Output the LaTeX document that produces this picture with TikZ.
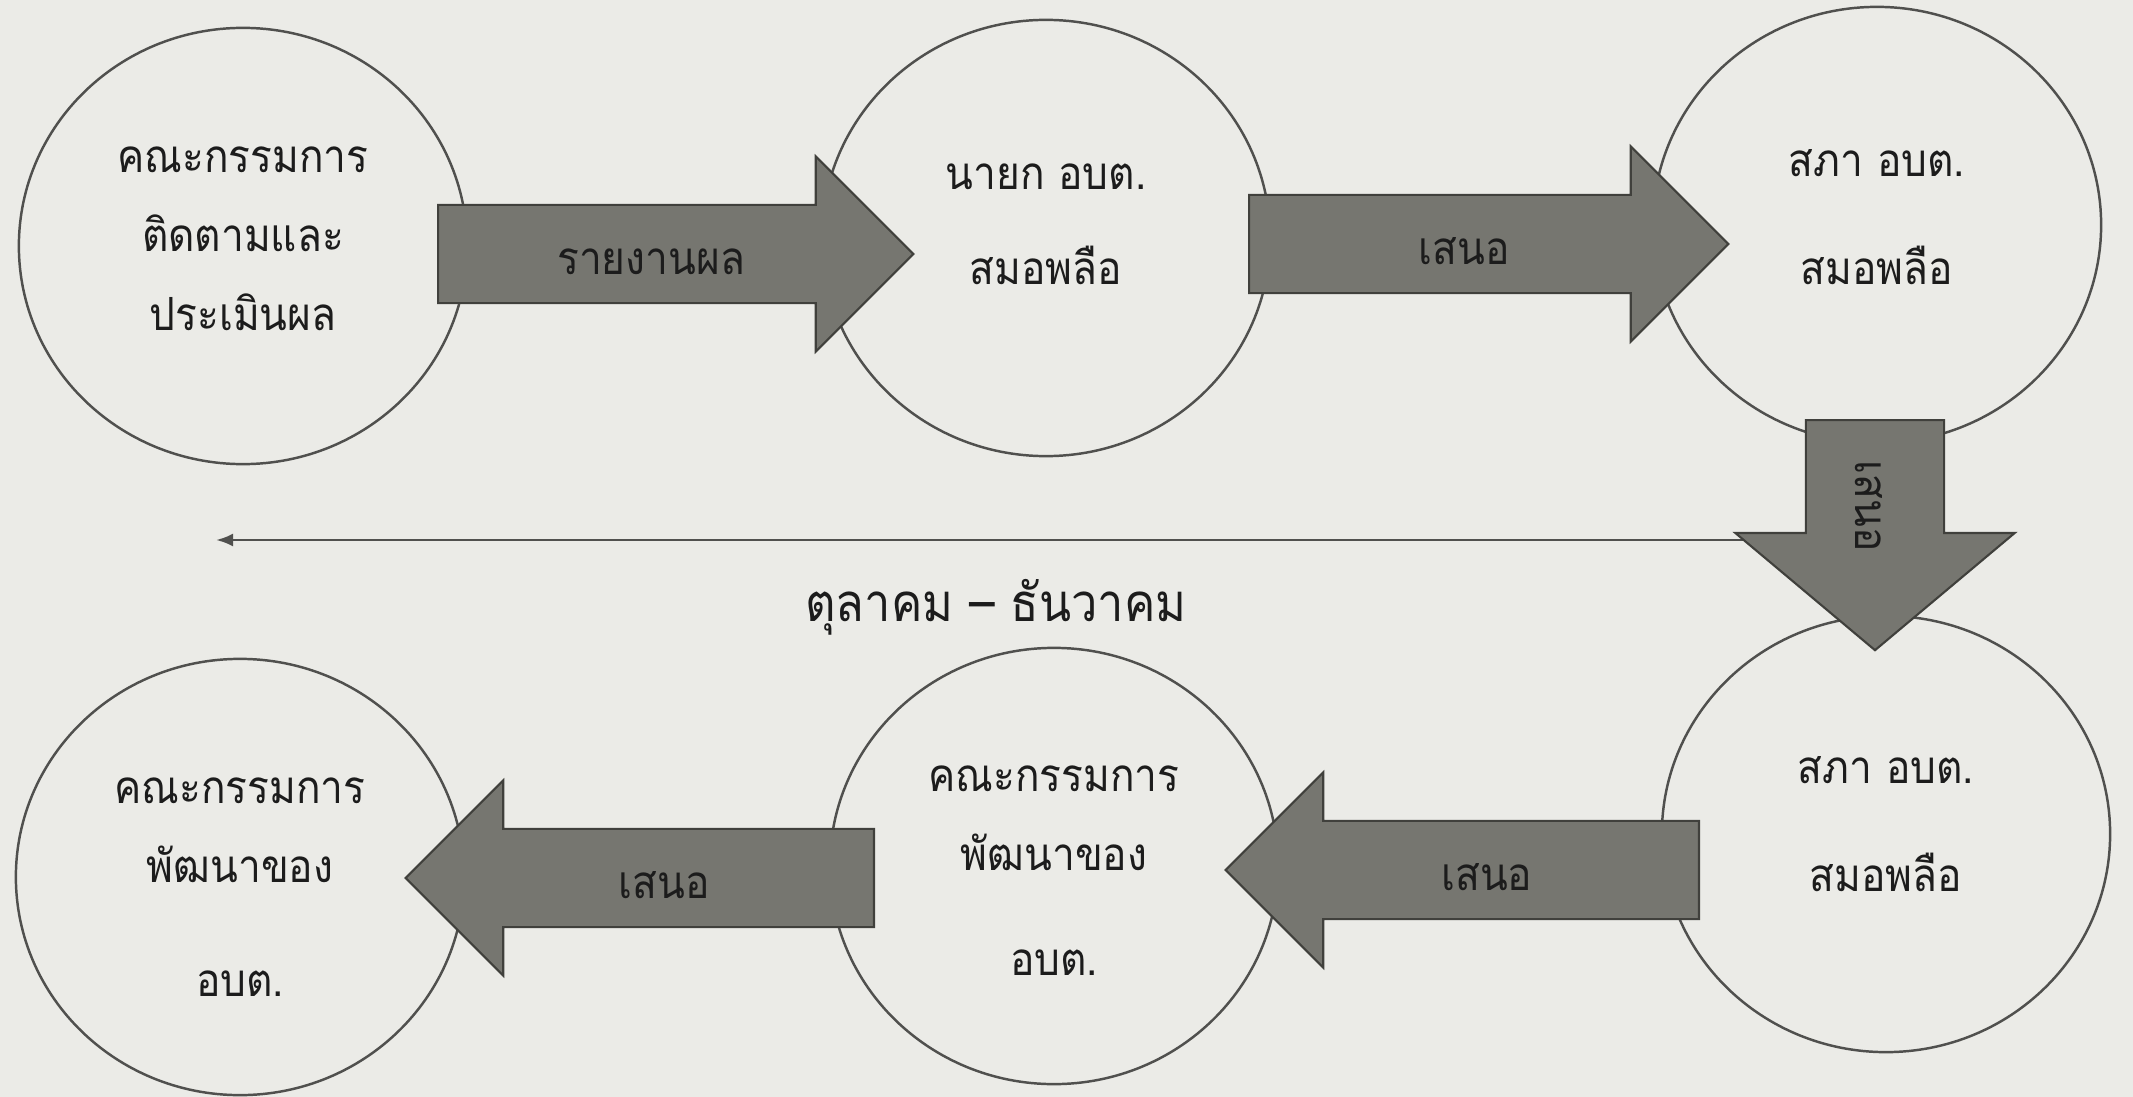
\documentclass[tikz,border=0pt]{standalone}
\usepackage{fontspec}
\newfontfamily\thaifont[Script=Thai, FakeStretch=0.89]{Loma}
\usepackage{tikz}
\usepackage{xcolor}
\usetikzlibrary{shapes.geometric, shapes.arrows, arrows.meta}

\definecolor{paper}{RGB}{235,235,231}
\definecolor{arrowfill}{RGB}{118,118,112}
\definecolor{arrowedge}{RGB}{64,64,60}
\definecolor{inkgray}{RGB}{28,28,28}
\definecolor{ringgray}{RGB}{80,80,78}

\tikzset{
  bubble/.style={ellipse, draw=ringgray, line width=0.7pt,
    minimum width=4.48cm, minimum height=4.36cm, align=center,
    text=inkgray, font=\thaifont\fontsize{13}{22.5}\selectfont},
  fatarrow/.style={single arrow, draw=arrowedge, fill=arrowfill,
    line width=0.6pt, text height=0.4cm, text depth=0cm,
    inner xsep=2pt, inner ysep=0.28cm,
    single arrow head extend=0.485cm, single arrow tip angle=90,
    text=inkgray, font=\thaifont\fontsize{13}{15}\selectfont}
}

\begin{document}
\begin{tikzpicture}[x=0.01cm, y=-0.01cm]
  % Page
  \fill[paper] (0,0) rectangle (2133,1097);
  \useasboundingbox (0,0) rectangle (2133,1097);

  % Top row
  \node[bubble] (follow) at (243,246)
    {คณะกรรมการ\\ติดตามและ\\ประเมินผล\\[-18.5pt]\mbox{}};
  \node[bubble] (mayor) at (1046,238)
    {นายก อบต.\\[4.4pt]สมอพลือ\\[-14.5pt]\mbox{}};
  \node[bubble] (council) at (1877,225)
    {สภา อบต.\\[8.4pt]สมอพลือ\\[-17.9pt]\mbox{}};

  % Bottom row
  \node[bubble] (councilb) at (1886,834)
    {สภา อบต.\\[8.4pt]สมอพลือ\\[-16.8pt]\mbox{}};
  \node[bubble] (develop) at (1054,866)
    {\rule{0pt}{9.7pt}คณะกรรมการ\\พัฒนาของ\\[7.3pt]อบต.};
  \node[bubble] (developb) at (240,877)
    {\rule{0pt}{13.1pt}คณะกรรมการ\\พัฒนาของ\\[10pt]อบต.};

  % Time line
  \coordinate (tlleft) at (216,540);
  \coordinate (tlright) at (1786,540);
  \draw[{Latex[length=1.7mm,width=1.3mm]}-{Latex[length=1.7mm,width=1.3mm]},
    draw=ringgray, line width=0.8pt] (tlleft) -- (tlright);
  \node[text=inkgray, font=\thaifont\fontsize{15}{18}\selectfont]
    (period) at (996,607) {ตุลาคม – ธันวาคม};

  % Block arrows
  \node[fatarrow, minimum height=4.75cm, anchor=tail]
    (report) at (437,254) {รายงานผล};
  \node[fatarrow, minimum height=4.79cm, anchor=tail]
    (propose) at (1248,244) {เสนอ};
  \node[fatarrow, inner ysep=0.48cm, single arrow head extend=0.705cm,
    single arrow tip angle=100, minimum height=2.30cm, rotate=-90, anchor=tail]
    (proposedown) at (1875,419) {เสนอ};
  \node[fatarrow, shape border rotate=180, minimum height=4.73cm, anchor=tail]
    (proposeleft) at (1700,870) {เสนอ};
  \node[fatarrow, shape border rotate=180, minimum height=4.68cm, anchor=tail]
    (proposelast) at (875,878) {เสนอ};
\end{tikzpicture}
\end{document}
